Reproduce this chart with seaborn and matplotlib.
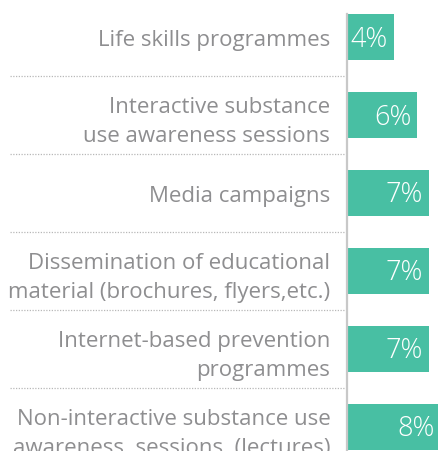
import pandas as pd
import seaborn as sns
import matplotlib
matplotlib.use('Agg')
import matplotlib.pyplot as plt

categories = [
    "Life skills programmes",
    "Interactive substance\nuse awareness sessions",
    "Media campaigns",
    "Dissemination of educational\nmaterial (brochures, flyers,etc.)",
    "Internet-based prevention\nprogrammes",
    "Non-interactive substance use\nawareness  sessions  (lectures)",
]
shares = [4, 6, 7, 7, 7, 8]

df = pd.DataFrame({'measure': categories, 'share': shares})

sns.set_style('white')
plt.rcParams['font.family'] = ['Open Sans', 'DejaVu Sans']

fig = plt.figure(figsize=(4.39, 4.52), dpi=100)
# axis starts at x=347px, runs off the right edge (8% bar is cut)
ax = fig.add_axes([347 / 439, 0, 92 / 439, 437 / 452])

sns.barplot(data=df, x='share', y='measure', color='#48bfa3', saturation=1,
            width=0.59, ax=ax)
ax.set_xlim(0, 7.83)
ax.set_ylim(5.31, -0.295)

for p in ax.patches:
    p.set_edgecolor('none')
    p.set_clip_on(True)

for i, v in enumerate(shares):
    ax.text(v - 0.5, i + 0.02, f"{v}%", color='white', fontsize=19.5,
            fontweight='light', ha='right', va='center', clip_on=True)

# dotted separators between the rows
for i in range(len(categories) - 1):
    ax.axhline(i + 0.5, xmin=(10 - 347) / 92, xmax=0, color='#b8b8b8',
               lw=0.9, ls=(0, (1, 1.2)), clip_on=False)

ax.set_xlabel('')
ax.set_ylabel('')
ax.set_xticks([])
ax.tick_params(axis='y', length=0, pad=12)
for lbl in ax.get_yticklabels():
    lbl.set_fontsize(16)
    lbl.set_color('#8e8e90')
    lbl.set_linespacing(1.45)

sns.despine(ax=ax, top=True, right=True, bottom=True)
ax.spines['left'].set_color('#c8c8c8')
ax.spines['left'].set_linewidth(1.6)

fig.savefig('out.png', dpi=100)
